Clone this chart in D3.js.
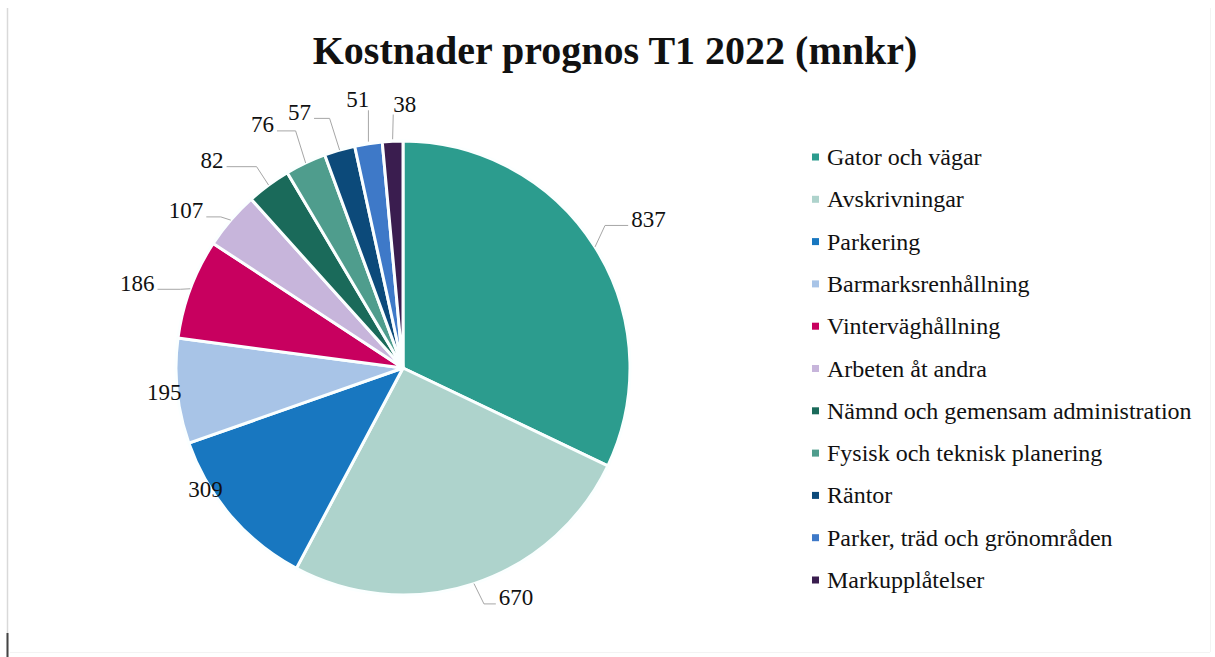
<!DOCTYPE html>
<html>
<head>
<meta charset="utf-8">
<script src="https://cdn.jsdelivr.net/npm/d3@7"></script>
<style>
  html, body { margin: 0; padding: 0; background: #fff; }
  svg { display: block; }
  text { font-family: "Liberation Serif", "Times New Roman", serif; fill: #111; }
</style>
</head>
<body>
<svg id="chart" width="1215" height="657"></svg>
<script>
// Cost categories and forecast values (mnkr)
const categories = [
  "Gator och vägar",
  "Avskrivningar",
  "Parkering",
  "Barmarksrenhållning",
  "Vinterväghållning",
  "Arbeten åt andra",
  "Nämnd och gemensam administration",
  "Fysisk och teknisk planering",
  "Räntor",
  "Parker, träd och grönområden",
  "Markupplåtelser"
];
const values = [837, 670, 309, 195, 186, 107, 82, 76, 57, 51, 38];
const colors = [
  "#2c9c8e", "#aed3cc", "#1877c0", "#a8c4e7", "#c8005f", "#c7b5db",
  "#1a6a5a", "#4f9d8d", "#0c4a7a", "#3e79c8", "#3a1d4f"
];
const title = "Kostnader prognos T1 2022 (mnkr)";

// Label placement tweaks: [angle shift in degrees, distance beyond the rim]
const labelNudge = [
  [1, 60], [-8, 29], [9, 5], [0, 13], [-2.7, 52], [-4.7, 41],
  [-6.3, 55], [-4.6, 54], [-5.8, 49], [-0.8, 45], [3, 37]
];

const svg = d3.select("#chart");
const W = 1215, H = 657;

// frame lines
svg.append("line").attr("x1", 7.5).attr("x2", 7.5).attr("y1", 8).attr("y2", H)
  .attr("stroke", "#d9d9d9").attr("stroke-width", 1.5);
svg.append("line").attr("x1", 7.5).attr("x2", 7.5).attr("y1", 633).attr("y2", H)
  .attr("stroke", "#444").attr("stroke-width", 2);
svg.append("line").attr("x1", 1210.5).attr("x2", 1210.5).attr("y1", 8).attr("y2", 652)
  .attr("stroke", "#f3f3f3").attr("stroke-width", 1);
svg.append("line").attr("x1", 10).attr("x2", 1210).attr("y1", 652.5).attr("y2", 652.5)
  .attr("stroke", "#f3f3f3").attr("stroke-width", 1);

// title
svg.append("text")
  .attr("x", 615).attr("y", 64)
  .attr("text-anchor", "middle")
  .style("font-size", "40px").style("font-weight", "bold")
  .text(title);

// pie
const cx = 403, cy = 368, R = 227;
const g = svg.append("g").attr("transform", `translate(${cx},${cy})`);

const pie = d3.pie().sort(null).value(d => d)(values);
const arc = d3.arc().innerRadius(0).outerRadius(R);

g.selectAll("path.slice")
  .data(pie)
  .join("path")
  .attr("class", "slice")
  .attr("d", arc)
  .attr("fill", (d, i) => colors[i])
  .attr("stroke", "#fbffff")
  .attr("stroke-width", 3)
  .attr("stroke-linejoin", "round");

// data labels with leader lines
const toRad = Math.PI / 180;
pie.forEach((d, i) => {
  const mid = (d.startAngle + d.endAngle) / 2;
  const a = mid + labelNudge[i][0] * toRad;
  const rr = R + labelNudge[i][1];
  const lx = Math.sin(a) * rr, ly = -Math.cos(a) * rr;

  const t = g.append("text")
    .attr("x", lx).attr("y", ly)
    .attr("text-anchor", "middle")
    .attr("dominant-baseline", "central")
    .style("font-size", "23px")
    .text(values[i]);

  // labels sitting right at the rim get no leader line
  if (labelNudge[i][1] < 20) return;

  const bb = t.node().getBBox();
  const ex = Math.sin(mid) * R, ey = -Math.cos(mid) * R;
  let pts;
  const onTop = Math.abs(Math.sin(mid)) < 0.2 && Math.cos(mid) > 0;
  if (onTop) {
    // straight drop from under the label to the rim
    const sx = Math.abs(lx - ex) < bb.width / 2 ? ex : (lx > ex ? bb.x : bb.x + bb.width);
    pts = [[sx, bb.y + bb.height - 2], [ex, ey - 2]];
  } else {
    const right = lx > ex;
    const hy = bb.y + bb.height * 0.75;
    const sx = right ? bb.x - 3 : bb.x + bb.width + 3;
    const len = Math.max(8, Math.min(30, Math.abs(ex - sx) - 10));
    const kx = right ? sx - len : sx + len;
    pts = [[sx, hy], [kx, hy], [ex, ey]];
  }
  g.append("path")
    .attr("d", d3.line()(pts))
    .attr("fill", "none")
    .attr("stroke", "#a6a6a6")
    .attr("stroke-width", 1);
});

// legend
const legend = svg.append("g").attr("transform", "translate(812,157)");
const step = 42.3;
const rows = legend.selectAll("g")
  .data(categories)
  .join("g")
  .attr("transform", (d, i) => `translate(0,${i * step})`);
rows.append("rect")
  .attr("x", 0).attr("y", -3.5).attr("width", 7).attr("height", 7)
  .attr("fill", (d, i) => colors[i]);
rows.append("text")
  .attr("x", 15).attr("y", 0)
  .attr("dominant-baseline", "central")
  .style("font-size", "24px")
  .text(d => d);
</script>
</body>
</html>
